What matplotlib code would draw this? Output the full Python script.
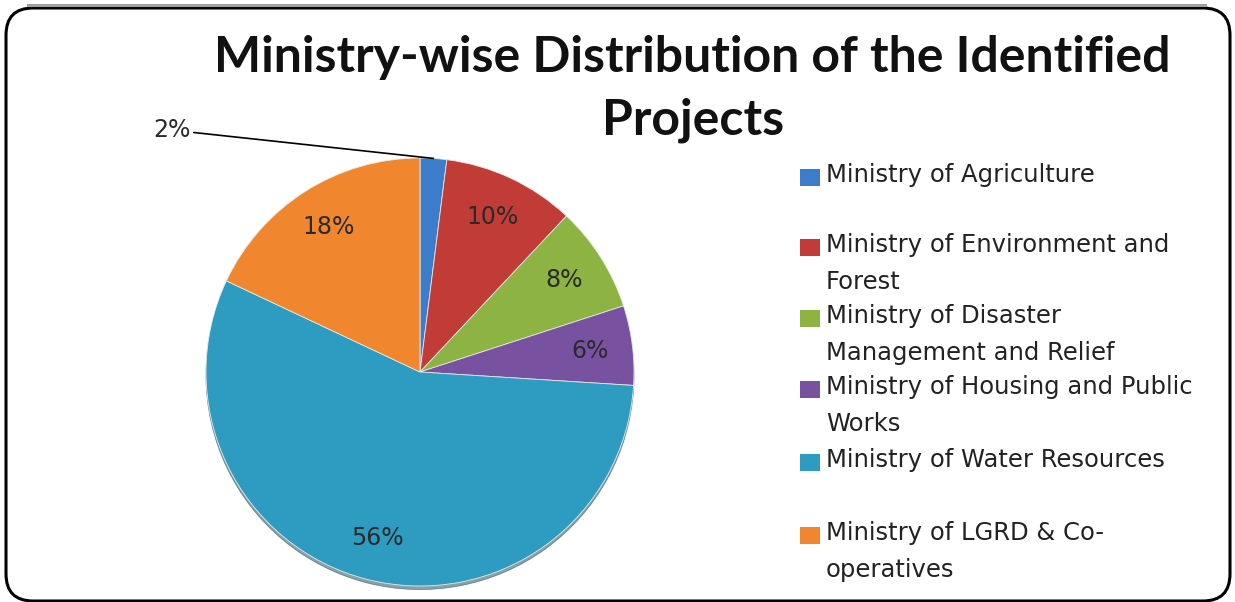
import numpy as np
import matplotlib
matplotlib.use('Agg')
import matplotlib.pyplot as plt
from matplotlib.patches import FancyBboxPatch, Rectangle
from matplotlib.lines import Line2D

# data
ministries = ['Ministry of Agriculture',
              'Ministry of Environment and\nForest',
              'Ministry of Disaster\nManagement and Relief',
              'Ministry of Housing and Public\nWorks',
              'Ministry of Water Resources',
              'Ministry of LGRD & Co-\noperatives']
shares = [2, 10, 8, 6, 56, 18]
colors = ['#3b7ccb', '#c23c37', '#8db443', '#7852a0', '#2e9cc0', '#f0872e']

W, H = 1235, 602
fig = plt.figure(figsize=(W / 100, H / 100), dpi=100)

# rounded frame, grey shadow along the top edge
fig.lines.append(Line2D([28 / W, 1205 / W], [1 - 4.5 / H, 1 - 4.5 / H],
                        transform=fig.transFigure, color='#a0a0a0', lw=2.2))
frame = FancyBboxPatch((6 / W, 1 - 601 / H), 1224 / W, 593 / H,
                       boxstyle='round,pad=0,rounding_size=0.022',
                       transform=fig.transFigure, fill=False, ec='black', lw=2.2,
                       mutation_aspect=W / H)
fig.patches.append(frame)

# title
fig.text(692 / W, 1 - 57 / H, 'Ministry-wise Distribution of the Identified',
         ha='center', va='center', fontsize=36, fontweight='bold', family='Lato', color='#111111')
fig.text(693 / W, 1 - 120 / H, 'Projects',
         ha='center', va='center', fontsize=36, fontweight='bold', family='Lato', color='#111111')

# pie
cx, cy, r = 420, 372, 214
ax = fig.add_axes([(cx - r) / W, (H - cy - r) / H, 2 * r / W, 2 * r / H])
wedges, texts, autotexts = ax.pie(shares, colors=colors, startangle=90, counterclock=False,
                                  autopct='%1.0f%%', pctdistance=0.8,
                                  shadow={'ox': 0, 'oy': -0.012, 'shade': 0.55},
                                  wedgeprops=dict(edgecolor='#e8e8e8', linewidth=0.6),
                                  textprops=dict(fontsize=17, family='DejaVu Sans', color='#2a2a2a'))
ax.set_xlim(-1, 1)
ax.set_ylim(-1, 1)
ax.set_aspect('equal')
ax.axis('off')

# small slice label pulled outside with a leader line
w0 = wedges[0]
ang = np.deg2rad((w0.theta1 + w0.theta2) / 2)
autotexts[0].set_visible(False)
ax.annotate('%d%%' % shares[0], xy=(np.cos(ang), np.sin(ang)), xytext=(-1.07, 1.13),
            ha='right', va='center', fontsize=17, family='DejaVu Sans', color='#2a2a2a',
            arrowprops=dict(arrowstyle='-', color='black', lw=1.2, shrinkA=0, shrinkB=0),
            annotation_clip=False)

# legend drawn like the original (square next to the first line)
rows = [177, 247, 318, 389, 462, 535]
for name, wedge, y in zip(ministries, wedges, rows):
	fig.patches.append(Rectangle((800 / W, 1 - (y + 9) / H), 20 / W, 17 / H,
	                             transform=fig.transFigure, fc=wedge.get_facecolor(), ec='none'))
	fig.text(826 / W, 1 - (y - 14) / H, name, ha='left', va='top', fontsize=17.5,
	         family='DejaVu Sans', color='#222222', linespacing=1.7)

fig.savefig('out.png', dpi=100)
